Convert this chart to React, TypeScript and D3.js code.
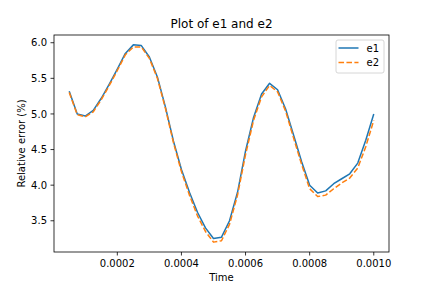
import React from "react";
import * as d3 from "d3";

const times = [
  0.00005, 0.000075, 0.0001, 0.000125, 0.00015, 0.000175, 0.0002, 0.000225,
  0.00025, 0.000275, 0.0003, 0.000325, 0.00035, 0.000375, 0.0004, 0.000425,
  0.00045, 0.000475, 0.0005, 0.000525, 0.00055, 0.000575, 0.0006, 0.000625,
  0.00065, 0.000675, 0.0007, 0.000725, 0.00075, 0.000775, 0.0008, 0.000825,
  0.00085, 0.000875, 0.0009, 0.000925, 0.00095, 0.000975, 0.001,
];

const e1 = [
  5.32, 5.0, 4.97, 5.05, 5.22, 5.42, 5.63, 5.85, 5.97, 5.96, 5.8, 5.52, 5.1,
  4.62, 4.22, 3.9, 3.62, 3.4, 3.25, 3.27, 3.5, 3.9, 4.48, 4.95, 5.28, 5.43,
  5.34, 5.07, 4.7, 4.33, 4.0, 3.89, 3.92, 4.02, 4.09, 4.16, 4.31, 4.63, 5.0,
];

const e2 = [
  5.3, 4.99, 4.96, 5.03, 5.2, 5.4, 5.61, 5.83, 5.94, 5.94, 5.78, 5.5, 5.08,
  4.6, 4.19, 3.86, 3.57, 3.35, 3.2, 3.22, 3.45, 3.86, 4.43, 4.91, 5.24, 5.4,
  5.31, 5.04, 4.66, 4.29, 3.95, 3.84, 3.86, 3.95, 4.03, 4.1, 4.24, 4.54, 4.91,
];

const xTicks = [0.0002, 0.0004, 0.0006, 0.0008, 0.001];
const xTickLabels = ["0.0002", "0.0004", "0.0006", "0.0008", "0.0010"];
const yTicks = [3.5, 4.0, 4.5, 5.0, 5.5, 6.0];
const yTickLabels = ["3.5", "4.0", "4.5", "5.0", "5.5", "6.0"];

const seriesNames = ["e1", "e2"];
const colors = ["#1f77b4", "#ff7f0e"];

const W = 432;
const H = 288;
const L = 54;
const R = 389;
const T = 35;
const B = 252;
const font = "DejaVu Sans, sans-serif";

export default function App() {
  const xmin = d3.min(times)!;
  const xmax = d3.max(times)!;
  const xpad = (xmax - xmin) * 0.05;
  const all = e1.concat(e2);
  const ymin = d3.min(all)!;
  const ymax = d3.max(all)!;
  const ypad = (ymax - ymin) * 0.05;
  const x = d3.scaleLinear().domain([xmin - xpad, xmax + xpad]).range([L, R]);
  const y = d3.scaleLinear().domain([ymin - ypad, ymax + ypad]).range([B, T]);

  const line = d3
    .line<number>()
    .x((_, i) => x(times[i]))
    .y((d) => y(d));

  const series = [e1, e2];

  return (
    <svg
      width={W}
      height={H}
      style={{ position: "absolute", left: 0, top: 0, background: "#fff" }}
      fontFamily={font}
    >
      <rect x={0} y={0} width={W} height={H} fill="#fff" />
      {series.map((s, k) => (
        <path
          key={k}
          d={line(s) || ""}
          fill="none"
          stroke={colors[k]}
          strokeWidth={1.5}
          strokeDasharray={k === 1 ? "5.55,2.4" : undefined}
          strokeLinejoin="round"
        />
      ))}
      <rect x={L} y={T} width={R - L} height={B - T} fill="none" stroke="#000" strokeWidth={0.8} />
      {xTicks.map((t, i) => (
        <g key={i}>
          <line x1={x(t)} x2={x(t)} y1={B} y2={B + 3.5} stroke="#000" strokeWidth={0.8} />
          <text x={x(t)} y={B + 15} textAnchor="middle" fontSize={10} fill="#000">
            {xTickLabels[i]}
          </text>
        </g>
      ))}
      {yTicks.map((t, i) => (
        <g key={i}>
          <line x1={L - 3.5} x2={L} y1={y(t)} y2={y(t)} stroke="#000" strokeWidth={0.8} />
          <text x={L - 7} y={y(t) + 3.6} textAnchor="end" fontSize={10} fill="#000">
            {yTickLabels[i]}
          </text>
        </g>
      ))}
      <text x={(L + R) / 2} y={28} textAnchor="middle" fontSize={12} fill="#000">
        Plot of e1 and e2
      </text>
      <text x={(L + R) / 2} y={281} textAnchor="middle" fontSize={10} fill="#000">
        Time
      </text>
      <text
        transform={`translate(24.5, ${(T + B) / 2}) rotate(-90)`}
        textAnchor="middle"
        fontSize={10}
        fill="#000"
      >
        Relative error (%)
      </text>
      <g>
        <rect x={336} y={40} width={48} height={33} rx={2} fill="#fff" fillOpacity={0.8} stroke="#ccc" strokeWidth={0.8} />
        {seriesNames.map((n, k) => (
          <g key={n}>
            <line
              x1={338.5}
              x2={358.5}
              y1={48 + k * 14.5}
              y2={48 + k * 14.5}
              stroke={colors[k]}
              strokeWidth={1.5}
              strokeDasharray={k === 1 ? "5.55,2.4" : undefined}
            />
            <text x={366.5} y={51.5 + k * 14.5} fontSize={10} fill="#000">
              {n}
            </text>
          </g>
        ))}
      </g>
    </svg>
  );
}
